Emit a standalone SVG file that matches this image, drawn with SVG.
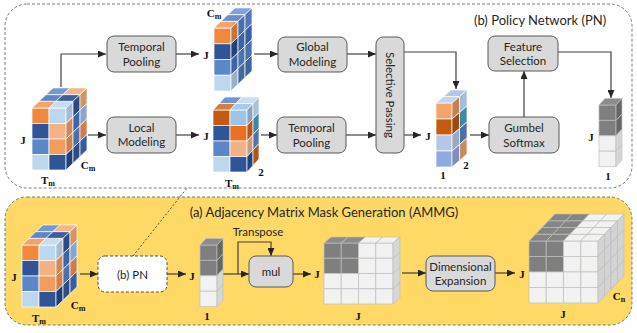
<svg xmlns="http://www.w3.org/2000/svg" xmlns:xlink="http://www.w3.org/1999/xlink" width="637" height="333" viewBox="0 0 637 333">
<style>
.t{font-family:Lato,"Liberation Sans",sans-serif;font-size:11.5px;fill:#262626;text-anchor:middle}
.h{font-family:Lato,"Liberation Sans",sans-serif;font-size:13px;fill:#262626}
.l{font-family:"Liberation Serif",serif;font-weight:bold;font-size:11px;fill:#111;text-anchor:middle}
.box{fill:#D9D9D9;stroke:#595959;stroke-width:1}
.cc rect{stroke:#fff;stroke-width:.7;vector-effect:non-scaling-stroke}
.gc rect{stroke:#BFBFBF;stroke-width:.7;vector-effect:non-scaling-stroke}
.cn{fill:none;stroke:#404040;stroke-width:1.2}
</style>
<defs>
<marker id="ah" markerUnits="userSpaceOnUse" markerWidth="8" markerHeight="7" refX="8" refY="3.5" orient="auto">
<path d="M0,0 L8,3.5 L0,7 z" fill="#262626"/>
</marker>
<g id="cubeA" class="cc">
<rect x="0" y="0" width="17" height="15.5" fill="#F0883E"/>
<rect x="17" y="0" width="17" height="15.5" fill="#BDD7EE"/>
<rect x="0" y="15.5" width="17" height="15.5" fill="#2F5597"/>
<rect x="17" y="15.5" width="17" height="15.5" fill="#F4B183"/>
<rect x="0" y="31" width="17" height="15.5" fill="#5B87C8"/>
<rect x="17" y="31" width="17" height="15.5" fill="#F29C5E"/>
<rect x="0" y="46.5" width="17" height="15.5" fill="#BDD7EE"/>
<rect x="17" y="46.5" width="17" height="15.5" fill="#2F5597"/>
<g transform="matrix(1,0,7,-6.7,0,0)">
<rect x="0" y="0" width="17" height="1" fill="#F4A46A"/>
<rect x="17" y="0" width="17" height="1" fill="#C9DDF0"/>
<rect x="0" y="1" width="17" height="1" fill="#5F86C6"/>
<rect x="17" y="1" width="17" height="1" fill="#3D5F9E"/>
<rect x="0" y="2" width="17" height="1" fill="#7499D3"/>
<rect x="17" y="2" width="17" height="1" fill="#F4B58C"/>
</g>
<g transform="matrix(7,-6.7,0,1,34,0)">
<rect x="0" y="0" width="1" height="15.5" fill="#A9BBD0"/>
<rect x="0" y="15.5" width="1" height="15.5" fill="#CF8A5C"/>
<rect x="0" y="31" width="1" height="15.5" fill="#D08048"/>
<rect x="0" y="46.5" width="1" height="15.5" fill="#223F78"/>
<rect x="1" y="0" width="1" height="15.5" fill="#2A4A85"/>
<rect x="1" y="15.5" width="1" height="15.5" fill="#3F65A8"/>
<rect x="1" y="31" width="1" height="15.5" fill="#4B70B0"/>
<rect x="1" y="46.5" width="1" height="15.5" fill="#2D4C88"/>
<rect x="2" y="0" width="1" height="15.5" fill="#D39366"/>
<rect x="2" y="15.5" width="1" height="15.5" fill="#8BA6C6"/>
<rect x="2" y="31" width="1" height="15.5" fill="#CC7E4C"/>
<rect x="2" y="46.5" width="1" height="15.5" fill="#3A5C9A"/>
</g>
</g>
<g id="grayCol" class="gc">
<rect x="0" y="0" width="17" height="15.4" fill="#7F7F7F"/>
<rect x="0" y="15.4" width="17" height="15.4" fill="#7F7F7F"/>
<rect x="0" y="30.8" width="17" height="15.4" fill="#F2F2F2"/>
<rect x="0" y="46.2" width="17" height="15.4" fill="#F2F2F2"/>
<g transform="matrix(1,0,6,-6.5,0,0)"><rect x="0" y="0" width="17" height="1" fill="#8C8C8C"/></g>
<g transform="matrix(6,-6.5,0,1,17,0)">
<rect x="0" y="0" width="1" height="15.4" fill="#666666"/>
<rect x="0" y="15.4" width="1" height="15.4" fill="#666666"/>
<rect x="0" y="30.8" width="1" height="15.4" fill="#D6D6D6"/>
<rect x="0" y="46.2" width="1" height="15.4" fill="#D6D6D6"/>
</g>
</g>
</defs>

<g id="pn-region">
<rect x="5" y="4" width="627" height="184" rx="22" fill="#fff" stroke="#595959" stroke-width="0.8" stroke-dasharray="3,2"/>
<text class="h" x="474" y="25">(b) Policy Network (PN)</text>
</g>
<g id="ammg-region">
<rect x="5" y="197" width="627" height="128" rx="22" fill="#FFD966" stroke="#595959" stroke-width="0.8" stroke-dasharray="3,2"/>
<text class="h" x="324" y="217" text-anchor="middle">(a) Adjacency Matrix Mask Generation (AMMG)</text>
</g>

<g id="connectors">
<path class="cn" d="M61,87 V54 H106" marker-end="url(#ah)"/>
<path class="cn" d="M88,135 H106" marker-end="url(#ah)"/>
<path class="cn" d="M176,54 H199" marker-end="url(#ah)"/>
<path class="cn" d="M176,135 H199" marker-end="url(#ah)"/>
<path class="cn" d="M254,54 H278" marker-end="url(#ah)"/>
<path class="cn" d="M347,54 H376" marker-end="url(#ah)"/>
<path class="cn" d="M261,135 H277" marker-end="url(#ah)"/>
<path class="cn" d="M346,135 H376" marker-end="url(#ah)"/>
<path class="cn" d="M404,52 H456 V89" marker-end="url(#ah)"/>
<path class="cn" d="M404,135 H421" marker-end="url(#ah)"/>
<path class="cn" d="M470,135 H489" marker-end="url(#ah)"/>
<path class="cn" d="M524,117 V71" marker-end="url(#ah)"/>
<path class="cn" d="M558,52 H611 V98" marker-end="url(#ah)"/>
<path class="cn" d="M80,274 H98" marker-end="url(#ah)"/>
<path class="cn" d="M167,274 H186" marker-end="url(#ah)"/>
<path class="cn" d="M223,274 H249" marker-end="url(#ah)"/>
<path class="cn" d="M238,274 V242 H271 V256" marker-end="url(#ah)"/>
<path class="cn" d="M293,274 H311" marker-end="url(#ah)"/>
<path class="cn" d="M402,273 H426" marker-end="url(#ah)"/>
<path class="cn" d="M495,273 H515" marker-end="url(#ah)"/>
<path d="M133,256 L187,188" fill="none" stroke="#404040" stroke-width="0.9" stroke-dasharray="2,2"/>
</g>

<g id="input-cube-pn">
<use xlink:href="#cubeA" href="#cubeA" transform="translate(32,108)"/>
<text class="l" x="23" y="144">J</text>
<text class="l" x="48" y="184">T<tspan font-size="8" dy="1.5">m</tspan></text>
<text class="l" x="88" y="169">C<tspan font-size="8" dy="1.5">m</tspan></text>
</g>

<g id="temporal-pooling-1"><rect class="box" x="107" y="36" width="69" height="36" rx="7"/>
<text class="t" x="141.5" y="51">Temporal</text><text class="t" x="141.5" y="66">Pooling</text></g>
<g id="local-modeling"><rect class="box" x="107" y="117" width="69" height="36" rx="7"/>
<text class="t" x="141.5" y="132">Local</text><text class="t" x="141.5" y="146">Modeling</text></g>

<g id="cube-jcm">
<g class="cc" transform="translate(214,28)">
<rect x="0" y="0" width="17" height="15.75" fill="#F0883E"/>
<rect x="0" y="15.75" width="17" height="15.75" fill="#2F5597"/>
<rect x="0" y="31.5" width="17" height="15.75" fill="#5B87C8"/>
<rect x="0" y="47.25" width="17" height="15.75" fill="#BDD7EE"/>
<g transform="matrix(1,0,7,-6.7,0,0)">
<rect x="0" y="0" width="17" height="1" fill="#F3A36C"/>
<rect x="0" y="1" width="17" height="1" fill="#6A8FCF"/>
<rect x="0" y="2" width="17" height="1" fill="#7FA2DA"/>
</g>
<g transform="matrix(7,-6.7,0,1,17,0)">
<rect x="0" y="0" width="1" height="15.75" fill="#C8743A"/>
<rect x="0" y="15.75" width="1" height="15.75" fill="#24427A"/>
<rect x="0" y="31.5" width="1" height="15.75" fill="#3F64A6"/>
<rect x="0" y="47.25" width="1" height="15.75" fill="#9AAFC8"/>
<rect x="1" y="0" width="1" height="15.75" fill="#4A6FB0"/>
<rect x="1" y="15.75" width="1" height="15.75" fill="#3E63A5"/>
<rect x="1" y="31.5" width="1" height="15.75" fill="#4E73B2"/>
<rect x="1" y="47.25" width="1" height="15.75" fill="#44699F"/>
<rect x="2" y="0" width="1" height="15.75" fill="#5577B5"/>
<rect x="2" y="15.75" width="1" height="15.75" fill="#3A5E9E"/>
<rect x="2" y="31.5" width="1" height="15.75" fill="#4B70B0"/>
<rect x="2" y="47.25" width="1" height="15.75" fill="#3F62A0"/>
</g>
</g>
<text class="l" x="206" y="59">J</text>
<text class="l" x="214" y="17">C<tspan font-size="8" dy="1.5">m</tspan></text>
</g>

<g id="cube-jtm2">
<g class="cc" transform="translate(213,110)">
<rect x="0" y="0" width="17" height="15.5" fill="#C55A11"/>
<rect x="17" y="0" width="17" height="15.5" fill="#9DC3E6"/>
<rect x="0" y="15.5" width="17" height="15.5" fill="#2F5597"/>
<rect x="17" y="15.5" width="17" height="15.5" fill="#E97121"/>
<rect x="0" y="31" width="17" height="15.5" fill="#5B87C8"/>
<rect x="17" y="31" width="17" height="15.5" fill="#F4B183"/>
<rect x="0" y="46.5" width="17" height="15.5" fill="#BDD7EE"/>
<rect x="17" y="46.5" width="17" height="15.5" fill="#2F5597"/>
<g transform="matrix(1,0,6,-6.5,0,0)">
<rect x="0" y="0" width="17" height="1" fill="#D27F42"/>
<rect x="17" y="0" width="17" height="1" fill="#A9CAEA"/>
<rect x="0" y="1" width="17" height="1" fill="#7196D2"/>
<rect x="17" y="1" width="17" height="1" fill="#C8DDF0"/>
</g>
<g transform="matrix(6,-6.5,0,1,34,0)">
<rect x="0" y="0" width="1" height="15.5" fill="#8BA4C2"/>
<rect x="0" y="15.5" width="1" height="15.5" fill="#B5561A"/>
<rect x="0" y="31" width="1" height="15.5" fill="#C99A7C"/>
<rect x="0" y="46.5" width="1" height="15.5" fill="#24427A"/>
<rect x="1" y="0" width="1" height="15.5" fill="#A9C0D6"/>
<rect x="1" y="15.5" width="1" height="15.5" fill="#3F86A8"/>
<rect x="1" y="31" width="1" height="15.5" fill="#5073AE"/>
<rect x="1" y="46.5" width="1" height="15.5" fill="#B35515"/>
</g>
</g>
<text class="l" x="206" y="140">J</text>
<text class="l" x="232" y="187">T<tspan font-size="8" dy="1.5">m</tspan></text>
<text class="l" x="261" y="176">2</text>
</g>

<g id="global-modeling"><rect class="box" x="278" y="37" width="69" height="35" rx="7"/>
<text class="t" x="312.5" y="51">Global</text><text class="t" x="312.5" y="66">Modeling</text></g>
<g id="temporal-pooling-2"><rect class="box" x="277" y="117" width="69" height="36" rx="7"/>
<text class="t" x="311.5" y="132">Temporal</text><text class="t" x="311.5" y="147">Pooling</text></g>
<g id="selective-passing"><rect class="box" x="376" y="37" width="28" height="116" rx="7"/>
<text class="t" x="390" y="95" transform="rotate(90 390 95)" dy="4">Selective Passing</text></g>

<g id="cube-j12">
<g class="cc" transform="translate(436,103)">
<rect x="0" y="0" width="16" height="16" fill="#F4A46A"/>
<rect x="0" y="16" width="16" height="16" fill="#C55A11"/>
<rect x="0" y="32" width="16" height="16" fill="#B4C7E7"/>
<rect x="0" y="48" width="16" height="16" fill="#8FAADC"/>
<g transform="matrix(1,0,7.5,-6.5,0,0)">
<rect x="0" y="0" width="16" height="1" fill="#C5D5EE"/>
<rect x="0" y="1" width="16" height="1" fill="#B4C7E7"/>
</g>
<g transform="matrix(7.5,-6.5,0,1,16,0)">
<rect x="0" y="0" width="1" height="16" fill="#C98050"/>
<rect x="0" y="16" width="1" height="16" fill="#A04A10"/>
<rect x="0" y="32" width="1" height="16" fill="#98A9C8"/>
<rect x="0" y="48" width="1" height="16" fill="#7A90C0"/>
<rect x="1" y="0" width="1" height="16" fill="#A8BCD8"/>
<rect x="1" y="16" width="1" height="16" fill="#3C8AA8"/>
<rect x="1" y="32" width="1" height="16" fill="#4D6FA8"/>
<rect x="1" y="48" width="1" height="16" fill="#C78B5E"/>
</g>
</g>
<text class="l" x="428" y="140">J</text>
<text class="l" x="443" y="179">1</text>
<text class="l" x="466" y="169">2</text>
</g>

<g id="gumbel-softmax"><rect class="box" x="489" y="117" width="70" height="36" rx="7"/>
<text class="t" x="524" y="132">Gumbel</text><text class="t" x="524" y="147">Softmax</text></g>
<g id="feature-selection"><rect class="box" x="488" y="36" width="70" height="35" rx="7"/>
<text class="t" x="523" y="51">Feature</text><text class="t" x="523" y="65">Selection</text></g>

<g id="pn-output">
<use xlink:href="#grayCol" href="#grayCol" transform="translate(599,105)"/>
<text class="l" x="591" y="141">J</text>
<text class="l" x="608" y="180">1</text>
</g>

<g id="input-cube-ammg">
<use xlink:href="#cubeA" href="#cubeA" transform="translate(22,245)"/>
<text class="l" x="14" y="281">J</text>
<text class="l" x="39" y="322">T<tspan font-size="8" dy="1.5">m</tspan></text>
<text class="l" x="78" y="309">C<tspan font-size="8" dy="1.5">m</tspan></text>
</g>

<g id="pn-box"><rect x="98" y="256" width="69" height="36" rx="7" fill="#fff" stroke="#404040" stroke-width="0.9" stroke-dasharray="3,2"/>
<text class="t" x="132.5" y="279">(b) PN</text></g>

<g id="mask-vector">
<use xlink:href="#grayCol" href="#grayCol" transform="translate(200,245)"/>
<text class="l" x="192" y="280">J</text>
<text class="l" x="207" y="320">1</text>
</g>

<g id="mul"><rect class="box" x="249" y="256" width="44" height="31" rx="7"/>
<text class="t" x="271" y="276">mul</text>
<text class="t" x="258" y="236">Transpose</text></g>

<g id="matrix-jj">
<g class="gc" transform="translate(324,243)">
<rect x="0" y="0" width="17.25" height="15.25" fill="#7F7F7F"/>
<rect x="17.25" y="0" width="17.25" height="15.25" fill="#7F7F7F"/>
<rect x="34.5" y="0" width="17.25" height="15.25" fill="#F2F2F2"/>
<rect x="51.75" y="0" width="17.25" height="15.25" fill="#F2F2F2"/>
<rect x="0" y="15.25" width="17.25" height="15.25" fill="#7F7F7F"/>
<rect x="17.25" y="15.25" width="17.25" height="15.25" fill="#7F7F7F"/>
<rect x="34.5" y="15.25" width="17.25" height="15.25" fill="#F2F2F2"/>
<rect x="51.75" y="15.25" width="17.25" height="15.25" fill="#F2F2F2"/>
<rect x="0" y="30.5" width="17.25" height="15.25" fill="#F2F2F2"/>
<rect x="17.25" y="30.5" width="17.25" height="15.25" fill="#F2F2F2"/>
<rect x="34.5" y="30.5" width="17.25" height="15.25" fill="#F2F2F2"/>
<rect x="51.75" y="30.5" width="17.25" height="15.25" fill="#F2F2F2"/>
<rect x="0" y="45.75" width="17.25" height="15.25" fill="#F2F2F2"/>
<rect x="17.25" y="45.75" width="17.25" height="15.25" fill="#F2F2F2"/>
<rect x="34.5" y="45.75" width="17.25" height="15.25" fill="#F2F2F2"/>
<rect x="51.75" y="45.75" width="17.25" height="15.25" fill="#F2F2F2"/>
<g transform="matrix(1,0,7,-6,0,0)">
<rect x="0" y="0" width="17.25" height="1" fill="#8C8C8C"/>
<rect x="17.25" y="0" width="17.25" height="1" fill="#8C8C8C"/>
<rect x="34.5" y="0" width="17.25" height="1" fill="#F2F2F2"/>
<rect x="51.75" y="0" width="17.25" height="1" fill="#F2F2F2"/>
</g>
<g transform="matrix(7,-6,0,1,69,0)">
<rect x="0" y="0" width="1" height="15.25" fill="#D6D6D6"/>
<rect x="0" y="15.25" width="1" height="15.25" fill="#D6D6D6"/>
<rect x="0" y="30.5" width="1" height="15.25" fill="#D6D6D6"/>
<rect x="0" y="45.75" width="1" height="15.25" fill="#D6D6D6"/>
</g>
</g>
<text class="l" x="317" y="278">J</text>
<text class="l" x="358" y="320">J</text>
</g>

<g id="dimensional-expansion"><rect class="box" x="426" y="256" width="69" height="35" rx="7"/>
<text class="t" x="460.5" y="271">Dimensional</text><text class="t" x="460.5" y="285">Expansion</text></g>

<g id="mask-cube">
<g class="gc" transform="translate(529,241)">
<rect x="0" y="0" width="17.25" height="15.5" fill="#7F7F7F"/>
<rect x="17.25" y="0" width="17.25" height="15.5" fill="#7F7F7F"/>
<rect x="34.5" y="0" width="17.25" height="15.5" fill="#F2F2F2"/>
<rect x="51.75" y="0" width="17.25" height="15.5" fill="#F2F2F2"/>
<rect x="0" y="15.5" width="17.25" height="15.5" fill="#7F7F7F"/>
<rect x="17.25" y="15.5" width="17.25" height="15.5" fill="#7F7F7F"/>
<rect x="34.5" y="15.5" width="17.25" height="15.5" fill="#F2F2F2"/>
<rect x="51.75" y="15.5" width="17.25" height="15.5" fill="#F2F2F2"/>
<rect x="0" y="31" width="17.25" height="15.5" fill="#F2F2F2"/>
<rect x="17.25" y="31" width="17.25" height="15.5" fill="#F2F2F2"/>
<rect x="34.5" y="31" width="17.25" height="15.5" fill="#F2F2F2"/>
<rect x="51.75" y="31" width="17.25" height="15.5" fill="#F2F2F2"/>
<rect x="0" y="46.5" width="17.25" height="15.5" fill="#F2F2F2"/>
<rect x="17.25" y="46.5" width="17.25" height="15.5" fill="#F2F2F2"/>
<rect x="34.5" y="46.5" width="17.25" height="15.5" fill="#F2F2F2"/>
<rect x="51.75" y="46.5" width="17.25" height="15.5" fill="#F2F2F2"/>
<g transform="matrix(1,0,6.5,-6.75,0,0)">
<rect x="0" y="0" width="17.25" height="1" fill="#858585"/>
<rect x="17.25" y="0" width="17.25" height="1" fill="#858585"/>
<rect x="34.5" y="0" width="17.25" height="1" fill="#F2F2F2"/>
<rect x="51.75" y="0" width="17.25" height="1" fill="#F2F2F2"/>
<rect x="0" y="1" width="17.25" height="1" fill="#858585"/>
<rect x="17.25" y="1" width="17.25" height="1" fill="#858585"/>
<rect x="34.5" y="1" width="17.25" height="1" fill="#F2F2F2"/>
<rect x="51.75" y="1" width="17.25" height="1" fill="#F2F2F2"/>
<rect x="0" y="2" width="17.25" height="1" fill="#858585"/>
<rect x="17.25" y="2" width="17.25" height="1" fill="#858585"/>
<rect x="34.5" y="2" width="17.25" height="1" fill="#F2F2F2"/>
<rect x="51.75" y="2" width="17.25" height="1" fill="#F2F2F2"/>
<rect x="0" y="3" width="17.25" height="1" fill="#858585"/>
<rect x="17.25" y="3" width="17.25" height="1" fill="#858585"/>
<rect x="34.5" y="3" width="17.25" height="1" fill="#F2F2F2"/>
<rect x="51.75" y="3" width="17.25" height="1" fill="#F2F2F2"/>
</g>
<g transform="matrix(6.5,-6.75,0,1,69,0)" fill="#D3D3D3">
<rect x="0" y="0" width="1" height="15.5"/><rect x="0" y="15.5" width="1" height="15.5"/><rect x="0" y="31" width="1" height="15.5"/><rect x="0" y="46.5" width="1" height="15.5"/>
<rect x="1" y="0" width="1" height="15.5"/><rect x="1" y="15.5" width="1" height="15.5"/><rect x="1" y="31" width="1" height="15.5"/><rect x="1" y="46.5" width="1" height="15.5"/>
<rect x="2" y="0" width="1" height="15.5"/><rect x="2" y="15.5" width="1" height="15.5"/><rect x="2" y="31" width="1" height="15.5"/><rect x="2" y="46.5" width="1" height="15.5"/>
<rect x="3" y="0" width="1" height="15.5"/><rect x="3" y="15.5" width="1" height="15.5"/><rect x="3" y="31" width="1" height="15.5"/><rect x="3" y="46.5" width="1" height="15.5"/>
</g>
</g>
<text class="l" x="522" y="278">J</text>
<text class="l" x="563" y="318">J</text>
<text class="l" x="619" y="300">C<tspan font-size="8" dy="1.5">n</tspan></text>
</g>
</svg>
